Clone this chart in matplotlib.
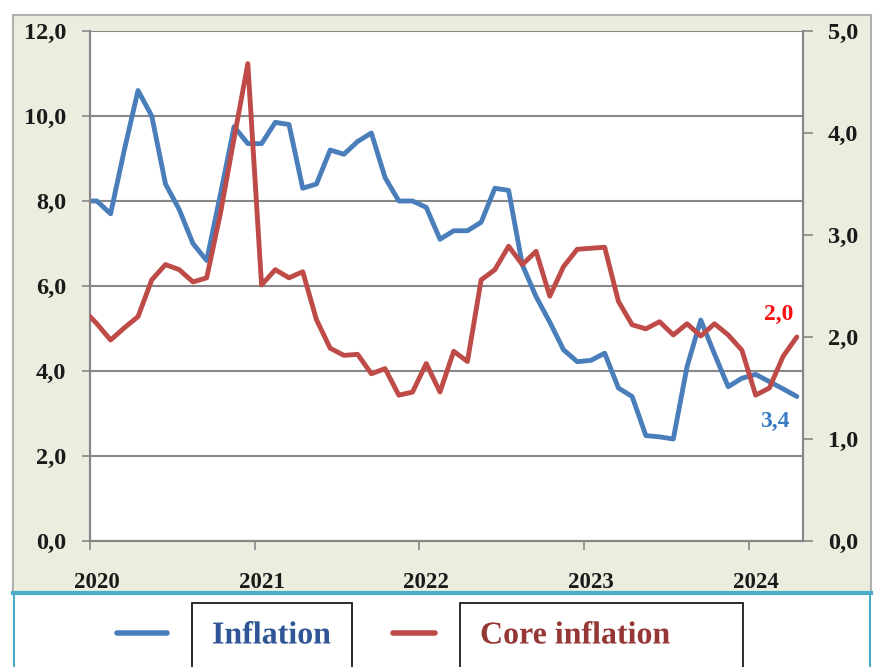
import numpy as np
import pandas as pd
import matplotlib
matplotlib.use('Agg')
import matplotlib.pyplot as plt
from matplotlib.patches import Rectangle
from matplotlib.lines import Line2D
from matplotlib.ticker import FixedLocator, FuncFormatter
import matplotlib.patheffects as pe

# ---------------- data ----------------
months = pd.period_range('2019-12', '2024-04', freq='M')
inflation = [8.0, 8.0, 7.7, 9.2, 10.6, 10.0, 8.4, 7.8, 7.0, 6.6, 8.15, 9.75, 9.35,
             9.35, 9.85, 9.8, 8.3, 8.4, 9.2, 9.1, 9.4, 9.6, 8.55, 8.0, 8.0,
             7.85, 7.1, 7.3, 7.3, 7.5, 8.3, 8.25, 6.5, 5.75, 5.15, 4.5, 4.22,
             4.25, 4.42, 3.6, 3.4, 2.48, 2.45, 2.4, 4.1, 5.2, 4.4, 3.63, 3.83,
             3.92, 3.75, 3.58, 3.4]
core_inflation = [2.27, 2.13, 1.97, 2.09, 2.2, 2.56, 2.71, 2.66, 2.54, 2.58, 3.21, 3.95, 4.68,
                  2.51, 2.66, 2.58, 2.64, 2.17, 1.89, 1.82, 1.83, 1.64, 1.69, 1.43, 1.46,
                  1.74, 1.46, 1.86, 1.76, 2.56, 2.66, 2.89, 2.71, 2.84, 2.40, 2.69, 2.86,
                  2.87, 2.88, 2.35, 2.12, 2.08, 2.15, 2.02, 2.13, 2.01, 2.13, 2.02, 1.87,
                  1.43, 1.50, 1.81, 2.0]
year_labels = ['2020', '2021', '2022', '2023', '2024']
left_ticks = [0, 2, 4, 6, 8, 10, 12]
right_ticks = [0, 1, 2, 3, 4, 5]
series_names = ['Inflation', 'Core inflation']
last_infl_label = '3,4'
last_core_label = '2,0'

# ---------------- style ----------------
W, H = 881, 667
BLUE = '#4A7EBB'
RED = '#BE4B48'
BEIGE = '#EBEEDE'
GRID = '#878787'
CYAN = '#4BACC6'
SERIF = ['Liberation Serif', 'DejaVu Serif']

fig = plt.figure(figsize=(W / 100, H / 100), dpi=100)
fig.patch.set_facecolor('white')

def fx(x):
    return x / W

def fy(y):
    return 1 - y / H

# chart-area background
fig.patches.append(Rectangle((fx(13), fy(593)), fx(871) - fx(13), fy(15) - fy(593),
                             transform=fig.transFigure, facecolor=BEIGE,
                             edgecolor='#B0B0B0', lw=1.5, zorder=-10))
# cyan frame of legend area
for xs, ys in [((13, 871), (593, 593)), ((14, 14), (593, 667)), ((870, 870), (593, 667))]:
    fig.add_artist(Line2D([fx(xs[0]), fx(xs[1])], [fy(ys[0]), fy(ys[1])],
                          transform=fig.transFigure, color=CYAN,
                          lw=3 if ys[0] == ys[1] else 1.5, zorder=1))

# ---------------- axes ----------------
ax = fig.add_axes([fx(90), fy(541), fx(803) - fx(90), fy(31) - fy(541)])
ax.set_facecolor('white')
base = pd.Period('2020-01', freq='M')
x = np.array([(m - base).n for m in months])

ax.plot(x, inflation, color=BLUE, lw=3.5, solid_joinstyle='round', solid_capstyle='round', zorder=3)
ax.set_ylim(0, 12)
ax.set_xlim(-0.5, 51.45)

ax2 = ax.twinx()
ax2.plot(x, core_inflation, color=RED, lw=3.5, solid_joinstyle='round', solid_capstyle='round', zorder=3)
ax2.set_ylim(0, 5)
ax2.set_xlim(-0.5, 51.45)

comma = FuncFormatter(lambda v, p: f'{v:.1f}'.replace('.', ','))

ax.yaxis.set_major_locator(FixedLocator(left_ticks))
ax.yaxis.set_major_formatter(comma)
ax2.yaxis.set_major_locator(FixedLocator(right_ticks))
ax2.yaxis.set_major_formatter(comma)

ax.yaxis.grid(True, color=GRID, lw=1.5)
ax.set_axisbelow(True)

year_pos = [12 * k for k in range(len(year_labels))]
ax.xaxis.set_major_locator(FixedLocator([p - 0.5 for p in year_pos]))
ax.xaxis.set_major_formatter(FuncFormatter(lambda v, p: ''))
ax.xaxis.set_minor_locator(FixedLocator(year_pos))
ax.set_xticklabels(year_labels, minor=True)

for a in (ax, ax2):
    for s in a.spines.values():
        s.set_color(GRID)
        s.set_linewidth(1.5)
    a.spines['top'].set_visible(False)

ax.tick_params(axis='y', direction='out', length=6, width=1.2, color=GRID, pad=11)
ax2.tick_params(axis='y', direction='out', length=7, width=1.2, color=GRID, pad=11)
ax.tick_params(axis='x', which='major', direction='out', length=6.5, width=1.2, color=GRID)
ax.tick_params(axis='x', which='minor', length=0, pad=22)
for lab in ax.get_yticklabels() + ax2.get_yticklabels():
    lab.set_fontfamily(SERIF)
    lab.set_fontweight('bold')
    lab.set_fontsize(17.5)
    lab.set_color('#1A1A1A')
for lab in ax.get_xticklabels(minor=True):
    lab.set_fontfamily(SERIF)
    lab.set_fontweight('bold')
    lab.set_fontsize(16.5)
    lab.set_color('#1A1A1A')

# end labels
ax2.annotate(last_core_label, xy=(x[-1], core_inflation[-1]), xytext=(-13, 16),
             textcoords='offset points', ha='center', va='center',
             color='#FF1010', fontfamily=SERIF, fontweight='bold', fontsize=17)
ax.annotate(last_infl_label, xy=(x[-1], inflation[-1]), xytext=(-16, -18),
            textcoords='offset points', ha='center', va='center',
            color='#3A7CC4', fontfamily=SERIF, fontweight='bold', fontsize=17)

# ---------------- legend (manual) ----------------
def legend_entry(x0, x1, color, bx0, bx1, tx, label, tcolor):
    fig.add_artist(Line2D([fx(x0), fx(x1)], [fy(633), fy(633)], transform=fig.transFigure,
                          color=color, lw=4, solid_capstyle='round'))
    fig.patches.append(Rectangle((fx(bx0), fy(700)), fx(bx1) - fx(bx0), fy(603) - fy(700),
                                 transform=fig.transFigure, facecolor='none',
                                 edgecolor='#1A1A1A', lw=1.3, zorder=2))
    t = fig.text(fx(tx), fy(636), label, ha='left', va='center', color=tcolor,
                 fontfamily=SERIF, fontweight='bold', fontsize=23)
    t.set_path_effects([pe.SimpleLineShadow(offset=(1, -1), alpha=0.35, shadow_color='#808080'), pe.Normal()])

legend_entry(117, 167, BLUE, 192, 352, 212, series_names[0], '#2F5597')
legend_entry(393, 435, RED, 460, 743, 480, series_names[1], '#953735')

fig.savefig('out.png', dpi=100)
